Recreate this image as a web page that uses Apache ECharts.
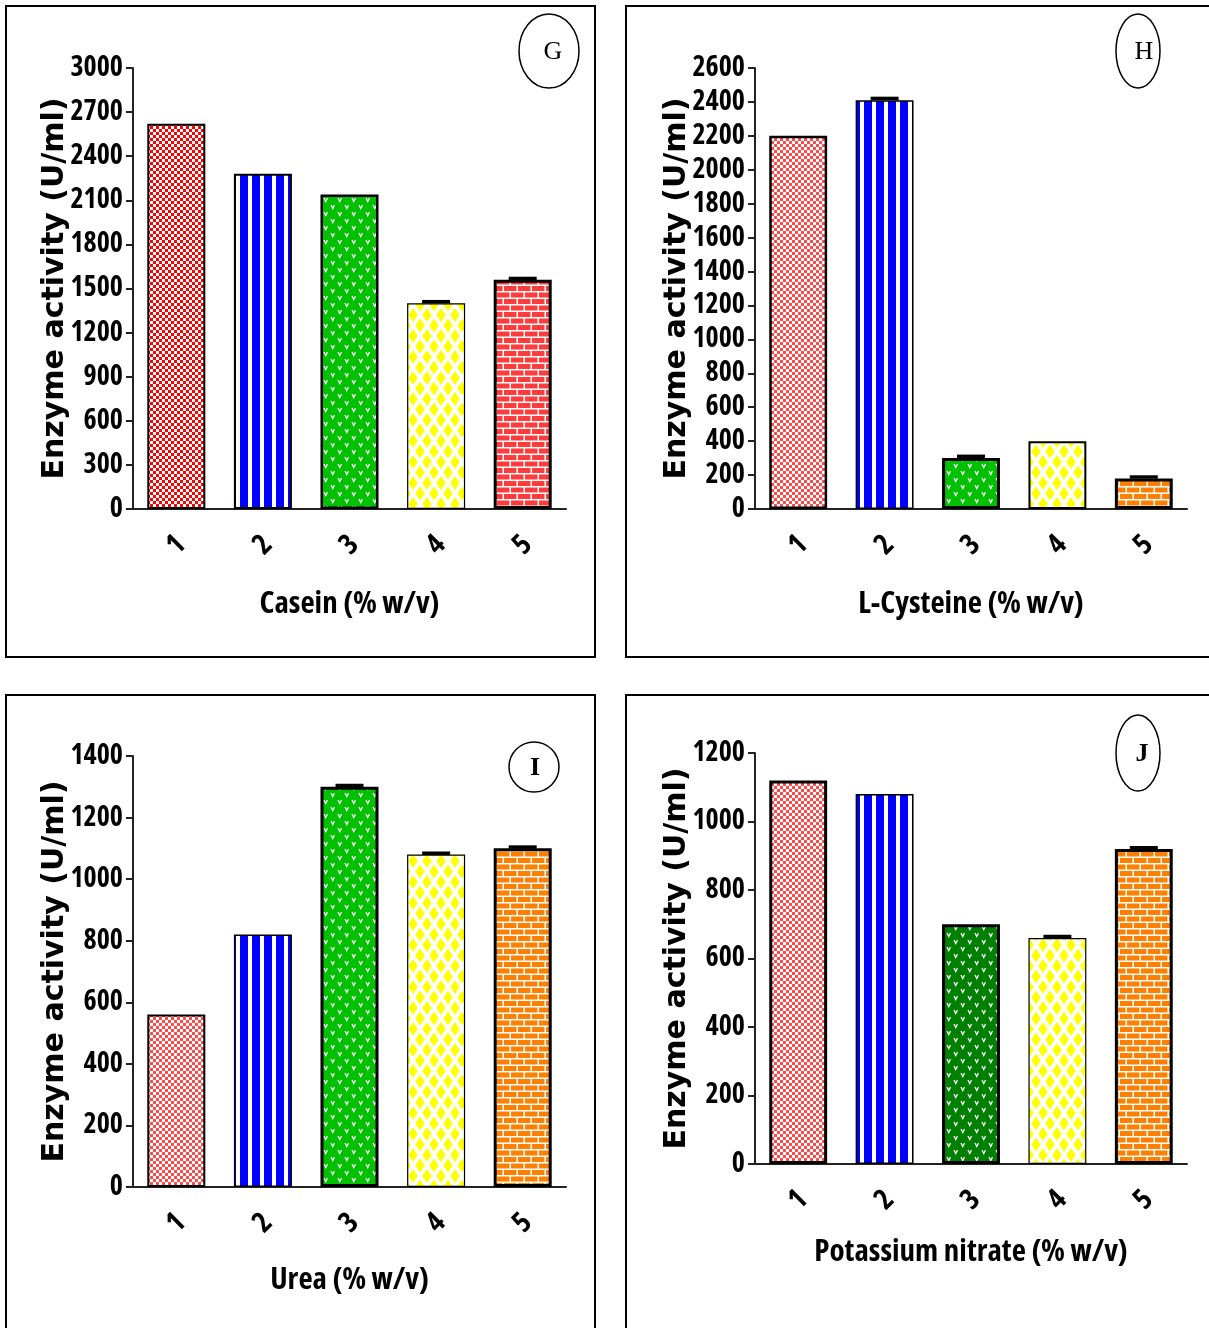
<!DOCTYPE html>
<html>
<head>
<meta charset="utf-8">
<script src="https://cdn.jsdelivr.net/npm/echarts@6/dist/echarts.min.js"></script>
<style>
html,body{margin:0;padding:0;background:#fff;}
#chart{width:1209px;height:1328px;}
</style>
</head>
<body>
<div id="chart"></div>
<script>
// ---- data ----
const categories = ['1', '2', '3', '4', '5'];

const valuesG = [2620, 2280, 2140, 1400, 1560];
const errorsG = [0, 0, 0, 12, 10];
const valuesH = [2200, 2410, 300, 400, 180];
const errorsH = [0, 12, 12, 0, 10];
const valuesI = [560, 820, 1300, 1080, 1100];
const errorsI = [0, 0, 5, 5, 5];
const valuesJ = [1120, 1080, 700, 660, 920];
const errorsJ = [0, 0, 0, 5, 4];

// y axis ranges [min, max, interval]
const axisG = [0, 3000, 300];
const axisH = [0, 2600, 200];
const axisI = [0, 1400, 200];
const axisJ = [0, 1200, 200];

const yTitle = 'Enzyme activity (U/ml)';
const xTitles = ['Casein (% w/v)', 'L-Cysteine (% w/v)', 'Urea (% w/v)', 'Potassium nitrate (% w/v)'];
const panelLetters = ['G', 'H', 'I', 'J'];

// ---- patterns ----
function mk(w, h, draw) {
  const c = document.createElement('canvas');
  c.width = w; c.height = h;
  const ctx = c.getContext('2d');
  draw(ctx);
  return { image: c, repeat: 'repeat' };
}
function checker(col) {
  return mk(6, 6, ctx => {
    ctx.fillStyle = '#fff'; ctx.fillRect(0, 0, 6, 6);
    ctx.fillStyle = col; ctx.fillRect(0, 0, 3, 3); ctx.fillRect(3, 3, 3, 3);
  });
}
function stripes(col) {
  return mk(12, 4, ctx => {
    ctx.fillStyle = '#fff'; ctx.fillRect(0, 0, 12, 4);
    ctx.fillStyle = col; ctx.fillRect(0, 0, 8, 4);
  });
}
function vees(col) {
  return mk(14, 14, ctx => {
    ctx.fillStyle = col; ctx.fillRect(0, 0, 14, 14);
    ctx.strokeStyle = '#fff'; ctx.lineWidth = 1.3;
    const v = (x, y) => { ctx.beginPath(); ctx.moveTo(x, y); ctx.lineTo(x + 1.75, y + 3.5); ctx.lineTo(x + 3.5, y); ctx.stroke(); };
    v(2, 2); v(9, 9);
  });
}
function diamonds(col) {
  return mk(14, 21, ctx => {
    ctx.fillStyle = '#fff'; ctx.fillRect(0, 0, 14, 21);
    ctx.fillStyle = col;
    const d = (x, y) => { ctx.beginPath(); ctx.moveTo(x, y - 7); ctx.lineTo(x + 4.7, y); ctx.lineTo(x, y + 7); ctx.lineTo(x - 4.7, y); ctx.closePath(); ctx.fill(); };
    d(7, 0); d(7, 21); d(0, 10.5); d(14, 10.5);
  });
}
function bricks(col) {
  return mk(14, 13, ctx => {
    ctx.fillStyle = '#fff'; ctx.fillRect(0, 0, 14, 13);
    ctx.fillStyle = col;
    ctx.fillRect(0, 0, 12.5, 5);
    ctx.fillRect(-7, 6.5, 12.5, 5); ctx.fillRect(7, 6.5, 12.5, 5);
  });
}

const stylesG = [
  { color: checker('#ff0000'), bw: 2 },
  { color: stripes('#0000ff'), bw: 2 },
  { color: vees('#00c000'), bw: 2.5 },
  { color: diamonds('#ffff00'), bw: 1.2 },
  { color: bricks('#ff3b3b'), bw: 3 }
];
const stylesH = [
  { color: checker('#ff4a4a'), bw: 2.5 },
  { color: stripes('#0000ff'), bw: 1.5 },
  { color: vees('#00c000'), bw: 3 },
  { color: diamonds('#ffff00'), bw: 2 },
  { color: bricks('#ff8000'), bw: 3 }
];
const stylesI = [
  { color: checker('#ff4a4a'), bw: 2 },
  { color: stripes('#0000ff'), bw: 1.5 },
  { color: vees('#00c000'), bw: 3 },
  { color: diamonds('#ffff00'), bw: 1.2 },
  { color: bricks('#ff8000'), bw: 3 }
];
const stylesJ = [
  { color: checker('#ff4a4a'), bw: 3 },
  { color: stripes('#0000ff'), bw: 1.5 },
  { color: vees('#008000'), bw: 3 },
  { color: diamonds('#ffff00'), bw: 1.2 },
  { color: bricks('#ff8000'), bw: 3 }
];

const panels = [
  { vals: valuesG, errs: errorsG, axis: axisG, styles: stylesG, grid: { left: 133, right: 643, top: 68, bottom: 819 }, gap: 80 },
  { vals: valuesH, errs: errorsH, axis: axisH, styles: stylesH, grid: { left: 755, right: 22, top: 68, bottom: 819 }, gap: 80 },
  { vals: valuesI, errs: errorsI, axis: axisI, styles: stylesI, grid: { left: 133, right: 643, top: 756, bottom: 141 }, gap: 78 },
  { vals: valuesJ, errs: errorsJ, axis: axisJ, styles: stylesJ, grid: { left: 755, right: 22, top: 753, bottom: 164 }, gap: 73 }
];

const axisCol = '#222';
const condFW = 'bold condensed';
const condFF = "'Open Sans', 'Liberation Sans', sans-serif";

const grids = [], xAxes = [], yAxes = [], series = [];
panels.forEach((p, i) => {
  grids.push(Object.assign({ containLabel: false }, p.grid));
  xAxes.push({
    type: 'category', gridIndex: i, data: categories,
    axisLine: { lineStyle: { color: axisCol, width: 2 } },
    axisTick: { alignWithLabel: true, length: 10, lineStyle: { color: axisCol, width: 2 } },
    axisLabel: { rotate: 45, align: 'center', verticalAlign: 'middle', margin: 36, fontFamily: condFF, fontWeight: condFW, fontSize: 29, color: '#000' },
    name: xTitles[i], nameLocation: 'middle', nameGap: p.gap, nameMoveOverlap: false,
    nameTextStyle: { fontFamily: condFF, fontWeight: condFW, fontSize: 31, color: '#000' }
  });
  yAxes.push({
    type: 'value', gridIndex: i, min: p.axis[0], max: p.axis[1], interval: p.axis[2],
    axisLine: { show: true, lineStyle: { color: axisCol, width: 2 } },
    axisTick: { show: true, length: 7, lineStyle: { color: axisCol, width: 2 } },
    splitLine: { show: false },
    axisLabel: { margin: 10, fontFamily: condFF, fontWeight: condFW, fontSize: 28, color: '#000', formatter: v => String(v) },
    name: yTitle, nameLocation: 'middle', nameGap: 63, nameRotate: 90, nameMoveOverlap: false,
    nameTextStyle: { fontFamily: "'DejaVu Sans', sans-serif", fontWeight: 'bold', fontSize: 30, color: '#000' }
  });
  series.push({
    type: 'bar', xAxisIndex: i, yAxisIndex: i, barWidth: '67%',
    data: p.vals.map((v, k) => ({ value: v, itemStyle: { color: p.styles[k].color, borderColor: '#000', borderWidth: p.styles[k].bw } })),
    silent: true, animation: false
  });
  series.push({
    type: 'custom', xAxisIndex: i, yAxisIndex: i, silent: true, animation: false, z: 5,
    data: p.vals.map((v, k) => [k, v, p.errs[k]]),
    renderItem: (params, api) => {
      const x = api.value(0), v = api.value(1), e = api.value(2);
      if (!e) return null;
      const top = api.coord([x, v + e]);
      const base = api.coord([x, v]);
      return {
        type: 'group', children: [
          { type: 'line', shape: { x1: top[0], y1: top[1], x2: base[0], y2: base[1] }, style: { stroke: '#000', lineWidth: 2 } },
          { type: 'rect', shape: { x: top[0] - 14, y: top[1] - 1.5, width: 28, height: 3.5 }, style: { fill: '#000' } }
        ]
      };
    }
  });
});

const graphics = [
  { type: 'rect', shape: { x: 6, y: 6, width: 589, height: 651 }, style: { fill: 'none', stroke: '#000', lineWidth: 2 } },
  { type: 'rect', shape: { x: 626, y: 6, width: 620, height: 651 }, style: { fill: 'none', stroke: '#000', lineWidth: 2 } },
  { type: 'rect', shape: { x: 6, y: 695, width: 589, height: 700 }, style: { fill: 'none', stroke: '#000', lineWidth: 2 } },
  { type: 'rect', shape: { x: 626, y: 695, width: 620, height: 700 }, style: { fill: 'none', stroke: '#000', lineWidth: 2 } }
];
const ellipses = [
  { cx: 549, cy: 51, rx: 30, ry: 37 },
  { cx: 1138, cy: 51, rx: 22, ry: 37 },
  { cx: 534, cy: 767, rx: 25, ry: 25 },
  { cx: 1138, cy: 753, rx: 22, ry: 38 }
];
const letterDx = [4, 6, 1, 4];
ellipses.forEach((e, i) => {
  graphics.push({ type: 'ellipse', shape: e, style: { fill: 'none', stroke: '#000', lineWidth: 1.5 } });
  graphics.push({ type: 'text', x: e.cx + letterDx[i], y: e.cy + 1, style: { text: panelLetters[i], font: (i >= 2 ? 'bold ' : '') + "26px 'Liberation Serif', 'DejaVu Serif', serif", fill: '#000', align: 'center', verticalAlign: 'middle' } });
});

const chart = echarts.init(document.getElementById('chart'), null, { renderer: 'canvas' });
chart.setOption({
  animation: false,
  backgroundColor: '#fff',
  grid: grids, xAxis: xAxes, yAxis: yAxes, series: series,
  graphic: graphics
});
</script>
</body>
</html>
